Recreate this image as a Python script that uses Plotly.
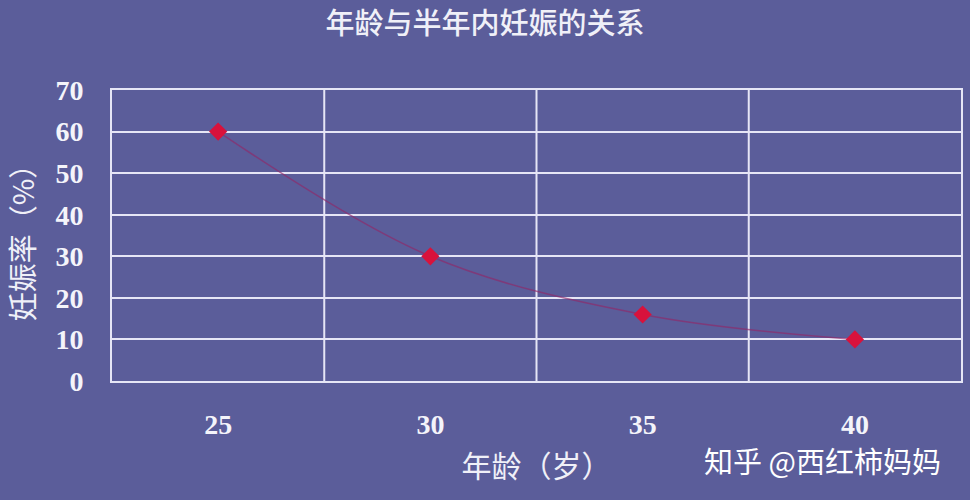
import plotly.graph_objects as go

ages = ["25", "30", "35", "40"]
rate = [60, 30, 16, 10]
y_ticks = [0, 10, 20, 30, 40, 50, 60, 70]

bg = "#5b5d9a"
grid = "#e6e6f6"
cjk = "Noto Sans CJK SC"
num_font = "Liberation Serif"

fig = go.Figure()

fig.add_trace(go.Scatter(
    x=ages, y=rate,
    mode="lines+markers",
    line=dict(color="rgba(145,40,105,0.65)", width=1.5, shape="spline"),
    marker=dict(symbol="diamond", size=14, color="#d8123c"),
    showlegend=False,
))

fig.update_layout(
    width=970, height=500,
    margin=dict(l=111, r=7, t=90, b=119),
    paper_bgcolor=bg, plot_bgcolor=bg,
    title=dict(text="年龄与半年内妊娠的关系", x=0.5, xanchor="center",
               y=0.952, yanchor="middle",
               font=dict(family=cjk, size=29, color="#f0f0f8", weight=500)),
    font=dict(family=cjk, color="#f4f4fa"),
)

fig.update_xaxes(
    type="category", range=[-0.5, 3.5],
    showgrid=False, zeroline=False,
    showline=True, linecolor=grid, linewidth=2, mirror=True,
    ticks="", ticklabelstandoff=17,
    tickfont=dict(family=num_font, size=28, color="#f4f4fa", weight="bold"),
    title=dict(text="年龄（岁）", standoff=17,
               font=dict(family=cjk, size=30, color="#f0f0f8")),
)

# vertical grid lines sit between the categories
for i in range(len(ages) - 1):
    fig.add_vline(x=i + 0.5, line=dict(color=grid, width=2), layer="below")

fig.update_yaxes(
    range=[0, 70], tickvals=y_ticks,
    showgrid=True, gridcolor=grid, gridwidth=2, zeroline=False,
    showline=True, linecolor=grid, linewidth=2, mirror=True,
    ticks="", ticklabelstandoff=21,
    tickfont=dict(family=num_font, size=28, color="#f4f4fa", weight="bold"),
    title=dict(text="妊娠率（%）", standoff=28,
               font=dict(family=cjk, size=29, color="#f0f0f8")),
)

fig.add_annotation(
    text="知乎 @西红柿妈妈", xref="paper", yref="paper",
    x=0.979, y=-0.271, xanchor="right", yanchor="middle",
    showarrow=False,
    font=dict(family=cjk, size=29, color="#ffffff"),
)

# drop the default body margin so the figure fills the window
fig.write_html("out.html", config={"displayModeBar": False},
               post_script="document.body.style.margin='0';")
